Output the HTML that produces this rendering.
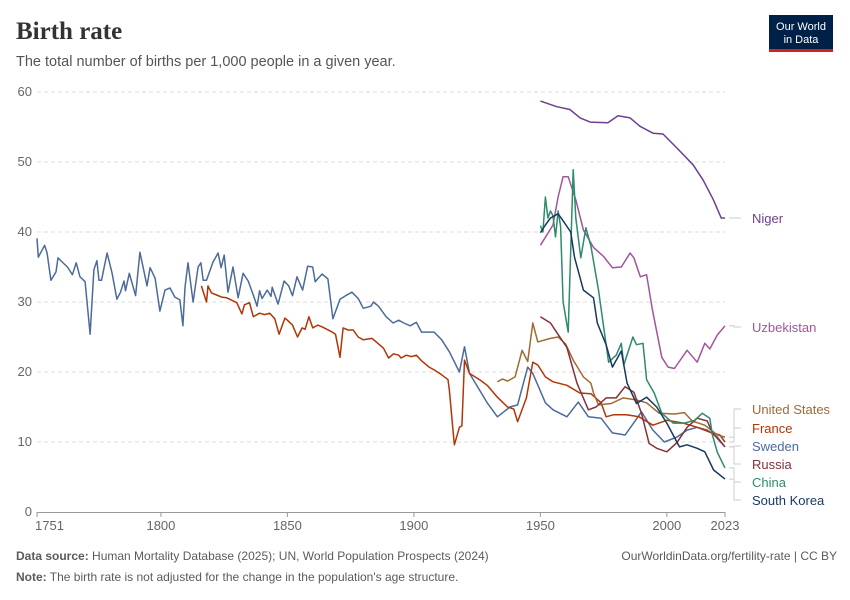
<!DOCTYPE html>
<html><head><meta charset="utf-8">
<style>
body{margin:0;background:#fff;font-family:"Liberation Sans",sans-serif;}
#wrap{position:relative;width:850px;height:600px;overflow:hidden;}
</style></head>
<body>
<div id="wrap">
<svg id="chart" width="850" height="600" xmlns="http://www.w3.org/2000/svg">
<text x="16" y="39" font-family="Liberation Serif,serif" font-size="25" font-weight="bold" fill="#333">Birth rate</text>
<text x="16" y="66" font-size="14.5" fill="#555">The total number of births per 1,000 people in a given year.</text>
<g>
<rect x="769" y="15" width="64" height="37" fill="#002147"/>
<rect x="769" y="49" width="64" height="3" fill="#ce261e"/>
<text x="801" y="30" font-size="11" fill="#fff" text-anchor="middle">Our World</text>
<text x="801" y="43" font-size="11" fill="#fff" text-anchor="middle">in Data</text>
</g>
<g id="grid"></g><g id="axes"></g><g id="lines"></g><g id="labels"></g>
<text x="16" y="560" font-size="12" fill="#5b5b5b"><tspan font-weight="bold">Data source:</tspan> Human Mortality Database (2025); UN, World Population Prospects (2024)</text>
<text x="837" y="560" font-size="12" fill="#5b5b5b" text-anchor="end">OurWorldinData.org/fertility-rate | CC BY</text>
<text x="16" y="581" font-size="12" fill="#5b5b5b"><tspan font-weight="bold">Note:</tspan> The birth rate is not adjusted for the change in the population's age structure.</text>
</svg>
</div>
<script>
const yTicks=[0,10,20,30,40,50,60];
const xTicks=[1751,1800,1850,1900,1950,2000,2023];
const seriesNames=["Niger","Uzbekistan","United States","France","Sweden","Russia","China","South Korea"];
const swedenYears=[1751,1751.5,1754,1755,1756.5,1758.5,1759.3,1761,1763,1765,1766.5,1768,1770,1772,1773.5,1774.7,1775.5,1776.5,1778.7,1780.7,1782.6,1784,1785.4,1786,1787.5,1790,1791.7,1793,1794.5,1795.7,1797.7,1799.6,1801.6,1803.6,1805.5,1807.5,1808.7,1809.5,1810.7,1812.7,1814.7,1815.8,1816.7,1818,1820.6,1822.6,1823.8,1825,1826.5,1828.5,1830.5,1832.5,1834.5,1836.5,1838,1839,1840,1842,1843.5,1844,1846.3,1848.7,1850.5,1852,1853.8,1856,1858,1860,1861,1863.7,1866,1868,1870.8,1873,1875.5,1878,1880,1883,1884,1886,1889,1891.8,1894,1896,1898.5,1901,1903,1908,1911,1914,1918,1920,1922,1929,1933,1938,1941,1945,1947,1952,1955,1960.5,1965,1969,1974,1978.5,1983.5,1990,1994.5,1999,2004,2008,2012,2016,2020,2023];
const swedenVals=[39.1,36.4,38.1,37,33.1,34.3,36.3,35.7,35,33.9,35.6,33.6,32.9,25.4,34.6,35.9,33.1,33.1,37,34.1,30.4,31.4,33,31.6,34.1,30.9,37.1,34.9,32.3,34.9,33.4,28.7,31.7,32,30.7,30.3,26.6,32.1,35.6,30,35,35.6,33.1,33.1,35.7,37,34.9,36.7,31.4,35,30.6,34.1,33,31,29.4,31.6,30.5,31.7,30.8,32.1,29.7,33,32.3,30.9,33.6,31.7,35.1,35,32.9,34,33.3,27.6,30.4,30.9,31.4,30.5,29.1,29.4,30,29.4,27.9,27,27.4,27,26.6,27.1,25.7,25.7,24.6,22.9,20,23.6,19.8,15.6,13.6,15,15.3,20.7,19.8,15.6,14.6,13.6,15.7,13.6,13.4,11.3,11,14.3,11.7,10,10.7,11.7,12.1,11.7,10.7,9.3];
const franceYears=[1816,1818,1818.6,1820,1822,1824,1826,1830,1832,1833,1835,1836.5,1839,1841,1843,1845,1846.7,1849,1850,1852,1854,1855.8,1857,1858.5,1860,1862,1864,1867.7,1869,1870.8,1872,1874,1876,1878,1880,1883.5,1888,1890,1892,1894,1895,1897,1899,1901,1903,1906,1908,1911,1913.5,1914,1915.5,1916,1918,1919,1920,1922,1926,1929,1933,1937,1939.5,1941,1944.5,1947,1949,1952,1955,1960.5,1965.6,1970,1974,1976,1979,1984,1989,1994.5,2000,2006.5,2012,2017,2021,2023];
const franceVals=[32.3,30,32.3,31.3,31,30.7,30.6,29.9,28.3,29.6,29.9,27.9,28.4,28.2,28.4,27.6,25.4,27.7,27.4,26.7,25,26.3,26.1,27.9,26.3,26.7,26.4,25.7,25.4,22.1,26.3,26,26,25,24.6,24.8,23.4,22,22.6,22.4,22,22.4,22.2,22.4,21.6,20.7,20.3,19.6,18.9,17.5,11.5,9.6,12.1,12.3,21.7,19.8,18.9,18.1,16.4,15,14.7,12.9,16.3,21.4,21,19.3,18.6,18.1,17,16.9,15.6,13.6,13.9,13.9,13.6,12.4,13.1,12.7,12.1,11.4,11,10];
const usYears=[1933,1935,1937,1940,1942.8,1945,1947,1949,1950,1954,1957,1960,1963,1967,1970,1971,1973,1978,1982.7,1988,1992,1997,2003,2007,2010,2015,2020,2023];
const usVals=[18.6,19,18.7,19.3,23.1,21.5,27,24.3,24.4,24.8,25,24,21.7,19.3,18.4,17,15.3,15.5,16.3,16,15.6,14.1,14,14.2,13,12.4,11,10.7];
const russiaYears=[1950,1954,1956.6,1960.5,1964.5,1969,1972,1976,1980,1983.5,1987,1990,1993,1996,2000,2004,2008,2012,2016,2018,2023];
const russiaVals=[27.9,27,25.6,23.5,18.4,14.6,15,16.3,16.3,17.9,17.1,14.1,9.8,9.1,8.6,9.9,12.1,13.4,13,11.3,9.3];
const uzbekYears=[1950,1955,1957,1959,1961,1964,1967,1971,1975,1978.5,1982,1985.5,1987,1989.5,1992,1994.3,1998,2000.5,2003,2008,2012,2015,2017,2020,2023];
const uzbekVals=[38.1,41,45,47.9,47.9,44.6,40.3,37.8,36.5,34.9,35,37,36.3,33.6,33.9,28.9,22.1,20.7,20.5,23.1,21.4,24.1,23.3,25.3,26.6];
const chinaYears=[1950,1951,1952,1953,1954,1955,1956,1957,1958,1959,1961,1963,1964,1966,1968,1970,1973,1977,1980,1982,1983,1986.6,1988,1990.6,1992,1995,1998,2002.5,2007,2011,2014,2017,2018,2020,2023];
const chinaVals=[40.9,40,45,42,43,42.3,39.3,43,40.8,30,25.7,48.9,42,36.3,40.6,38,31.7,21.4,22.4,24.1,21,25,23.9,24.1,18.9,17,14.1,12.7,12.7,13.1,14.1,13.4,11,8.5,6.3];
const koreaYears=[1950,1952,1954,1957,1959,1962,1963.5,1967,1971,1972.5,1976,1978.5,1982,1984.3,1988,1992,1996,2000,2005,2008,2012,2015,2018.5,2023];
const koreaVals=[39.9,41,42,42.6,41.6,40,36.4,31.7,30.6,27,23.9,20.7,23,18.4,15.5,16.4,15,12.7,9.3,9.6,9.1,8.6,6,4.7];
const nigerYears=[1950,1956.5,1961.7,1965.7,1969.7,1976.7,1980.7,1985.5,1989.4,1994.6,1998.5,2004,2010.4,2014.4,2018.4,2021.5,2023];
const nigerVals=[58.7,57.9,57.5,56.3,55.7,55.6,56.6,56.3,55.1,54.1,54,52,49.6,47.4,44.6,42,42];

const X=y=>37+(y-1751)*(725-37)/(2023-1751);
const Y=v=>512-v*7;
const NS="http://www.w3.org/2000/svg";
function mk(tag,attrs,parent){const e=document.createElementNS(NS,tag);for(const k in attrs)e.setAttribute(k,attrs[k]);parent.appendChild(e);return e;}
const grid=document.getElementById('grid'),axes=document.getElementById('axes'),lines=document.getElementById('lines'),labels=document.getElementById('labels');
yTicks.forEach(t=>{
  if(t>0){const g=mk('line',{x1:37,x2:725,y1:Y(t),y2:Y(t),stroke:'#ddd','stroke-dasharray':'4,3'},grid);
  
  }
  const tx=mk('text',{x:32,y:Y(t)+4,'text-anchor':'end','font-size':13,fill:'#666'},axes);tx.textContent=t;
  
  
});
const ax=mk('line',{x1:37,x2:725,y1:512.5,y2:512.5,stroke:'#999'},axes);


xTicks.forEach(t=>{
  mk('line',{x1:X(t),x2:X(t),y1:512,y2:517,stroke:'#999'},axes);
  const anchor=t===1751?'start':'middle';
  const tx=mk('text',{x:t===1751?35:X(t),y:530,'text-anchor':anchor,'font-size':13,fill:'#666'},axes);tx.textContent=t;
  
  
});
const series=[
 [swedenYears,swedenVals,'#4c6a9c','Sweden',446,Y(9.3)],
 [franceYears,franceVals,'#b13507','France',428,Y(10)],
 [usYears,usVals,'#a06a32','United States',409,Y(10.7)],
 [russiaYears,russiaVals,'#883039','Russia',464,Y(9.3)],
 [uzbekYears,uzbekVals,'#a2559c','Uzbekistan',327,Y(26.6)],
 [chinaYears,chinaVals,'#2e8b6c','China',482,Y(6.3)],
 [koreaYears,koreaVals,'#18375f','South Korea',500,Y(4.7)],
 [nigerYears,nigerVals,'#6d3e91','Niger',218,Y(42)]
];
series.forEach(s=>{
  const [ys,vs,col,name,ly,ey]=s;
  const d=ys.map((y,i)=>(i?'L':'M')+X(y).toFixed(1)+','+Y(vs[i]).toFixed(1)).join(' ');
  const p=mk('path',{d:d,fill:'none',stroke:col,'stroke-width':1.5,'stroke-linejoin':'round'},lines);
  
  
  mk('path',{d:`M729,${ey} H734 V${ly} H741`,fill:'none',stroke:'#ccc'},labels);
  const t=mk('text',{x:752,y:ly+5,'font-size':13,fill:col},labels);t.textContent=name;
  
  
});
</script>
</body></html>
